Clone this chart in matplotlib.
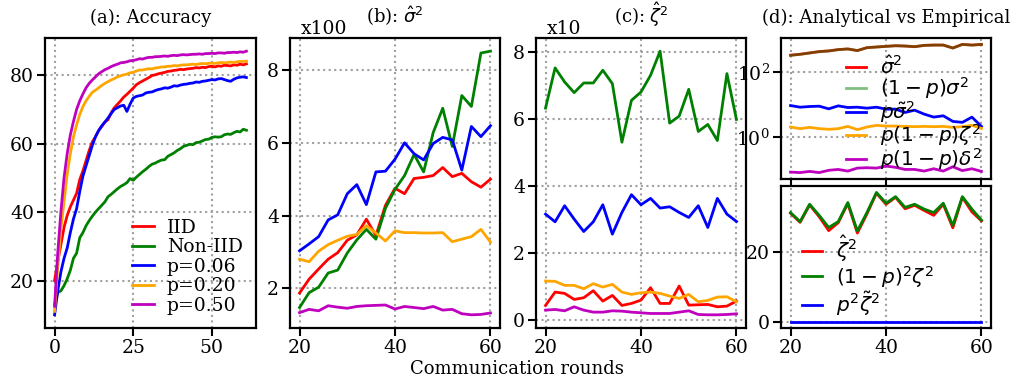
import matplotlib.pyplot as plt
import numpy as np

plt.rcParams['font.family'] = ['DejaVu Serif']
plt.rcParams['mathtext.fontset'] = 'dejavusans'
plt.rcParams['font.size'] = 13

# ---------------- data ----------------
# (a) accuracy per round
rounds_a = np.arange(0, 62)
acc_iid = [20, 25.5, 30.5, 35.5, 39, 41.5, 43.5, 45.5, 49.5, 52, 55, 58, 60.5, 62, 63.8, 65, 66.3, 67,
           69, 70.5, 71.5, 72.5, 73.6, 74.4, 75.3, 76.2, 77.2, 77.8, 78.3, 78.8, 79.3, 79.9, 80.1, 80.4,
           80.6, 80.8, 81.1, 81.2, 81.4, 81.5, 81.7, 81.6, 81.8, 81.9, 82.0, 82.2, 82.1, 82.3, 82.2, 82.5,
           82.6, 82.4, 82.7, 82.6, 82.9, 82.8, 82.7, 83.0, 82.9, 83.2, 83.0, 83.3]
acc_noniid = [13, 16.5, 17, 18.5, 20.5, 23, 26.5, 28, 32.5, 34, 36, 37.5, 38.8, 40, 41, 42, 43, 44.5,
              45.2, 46, 46.8, 47.5, 48, 48.6, 49.8, 49.3, 50.2, 51, 51.8, 52.5, 53.3, 54, 54.3, 54.8,
              55.2, 55.3, 56.3, 56.8, 57.3, 58, 58.5, 59.2, 59.5, 59.8, 59.7, 60.3, 60.4, 60.8, 61.2,
              61.3, 61.8, 62.0, 61.9, 62.0, 62.6, 62.8, 62.7, 63.2, 63.6, 63.4, 64.2, 63.9]
acc_p006 = [10, 17, 22.5, 26.5, 29.5, 34, 38, 41, 46, 50.5, 53.5, 56.5, 59.5, 62, 63.8, 65.2, 66.3,
            67.5, 68.8, 70, 70.5, 71, 71.2, 69.4, 71.5, 73.3, 73.8, 74, 74.2, 74.8, 75, 75.1, 75.5,
            75.8, 76.0, 76.3, 76.2, 76.5, 76.9, 76.8, 77.1, 77.3, 77.4, 77.6, 77.7, 78.0, 77.9, 78.2,
            78.3, 78.5, 78.7, 78.6, 78.9, 79.0, 78.7, 78.4, 78.2, 78.8, 79.2, 79.4, 79.5, 79.3]
acc_p020 = [11, 24, 35, 43, 51, 57, 62, 65.5, 68.5, 70.8, 72.5, 73.8, 75.0, 75.6, 76.3, 77.0, 77.6,
            78.1, 78.6, 79.0, 79.5, 79.8, 80.1, 80.3, 80.7, 80.8, 81.2, 81.5, 81.5, 81.7, 81.9, 81.8,
            82.1, 82.2, 82.4, 82.4, 82.6, 82.6, 82.8, 82.7, 82.9, 83.0, 83.0, 83.1, 83.2, 83.1, 83.3,
            83.4, 83.3, 83.5, 83.5, 83.4, 83.6, 83.7, 83.6, 83.7, 83.8, 83.7, 83.9, 84.0, 84.0, 84.1]
acc_p050 = [12.5, 28, 40, 50, 57, 62.5, 66.5, 70, 72.5, 74.5, 76.3, 77.6, 78.6, 79.5, 80.4, 81.0,
            81.6, 82.0, 82.5, 82.9, 83.2, 83.6, 83.7, 83.9, 84.2, 84.3, 84.5, 84.8, 84.7, 85.0, 85.2,
            85.2, 85.4, 85.4, 85.5, 85.6, 85.5, 85.7, 85.8, 85.7, 85.9, 86.0, 85.9, 86.0, 86.1, 86.1,
            86.2, 86.1, 86.3, 86.3, 86.4, 86.3, 86.5, 86.5, 86.4, 86.6, 86.6, 86.7, 86.6, 86.8, 86.7, 87.0]

# (b), (c), (d): every second round from 20 to 60
rounds = np.arange(20, 61, 2)

# (b) sigma_hat^2 (x100)
sig_iid = [1.87, 2.25, 2.53, 2.8, 2.98, 3.32, 3.47, 3.9, 3.45, 4.28, 4.75, 4.6, 5.02, 5.05, 5.1, 5.32,
           5.07, 5.16, 4.93, 4.78, 5.0]
sig_noniid = [1.47, 1.88, 2.03, 2.42, 2.5, 2.97, 3.33, 3.62, 3.35, 4.2, 4.72, 5.1, 5.68, 5.2, 6.28,
              6.95, 5.9, 7.3, 7.0, 8.47, 8.52]
sig_p006 = [3.03, 3.22, 3.42, 3.88, 4.02, 4.6, 4.85, 4.3, 5.2, 5.22, 5.55, 6.0, 5.7, 5.53, 5.98, 6.15,
            6.08, 5.25, 6.45, 6.17, 6.47]
sig_p020 = [2.8, 2.73, 3.02, 3.2, 3.32, 3.43, 3.48, 3.72, 3.52, 3.3, 3.58, 3.53, 3.53, 3.52, 3.52,
            3.53, 3.28, 3.35, 3.42, 3.62, 3.27]
sig_p050 = [1.33, 1.42, 1.38, 1.52, 1.48, 1.45, 1.5, 1.52, 1.53, 1.54, 1.43, 1.5, 1.47, 1.44, 1.5,
            1.4, 1.42, 1.3, 1.27, 1.28, 1.32]

# (c) zeta_hat^2 (x10)
zeta_iid = [0.42, 0.82, 0.78, 0.6, 0.65, 0.86, 0.55, 0.72, 0.42, 0.48, 0.58, 0.95, 0.48, 0.48, 1.0,
            0.43, 0.44, 0.45, 0.38, 0.4, 0.55]
zeta_noniid = [6.32, 7.52, 7.1, 6.78, 7.07, 7.07, 7.45, 7.05, 5.3, 6.55, 6.8, 7.3, 8.02, 5.87, 6.08,
               6.88, 5.62, 5.83, 5.35, 7.35, 5.98]
zeta_p006 = [3.15, 2.92, 3.4, 3.0, 2.63, 2.92, 3.43, 2.55, 3.2, 3.73, 3.43, 3.62, 3.33, 3.37, 3.2,
             3.05, 3.4, 2.75, 3.62, 3.15, 2.93]
zeta_p020 = [1.15, 1.14, 1.02, 1.02, 0.92, 1.07, 0.97, 1.05, 0.82, 0.75, 0.8, 0.82, 0.78, 0.7, 0.63,
             0.75, 0.53, 0.57, 0.67, 0.68, 0.53]
zeta_p050 = [0.28, 0.3, 0.26, 0.38, 0.28, 0.22, 0.22, 0.26, 0.25, 0.22, 0.2, 0.18, 0.18, 0.18, 0.22,
             0.26, 0.15, 0.14, 0.14, 0.15, 0.17]

# (d) top: analytical vs empirical sigma terms (log scale)
d_sig_hat = [323, 345, 379, 417, 437, 480, 503, 448, 551, 577, 604, 632, 618, 590, 648, 662, 662,
             537, 693, 662, 693]
d_sig_1mp = [320, 343, 377, 415, 436, 478, 502, 447, 549, 575, 603, 630, 617, 589, 646, 660, 661,
             536, 691, 660, 692]
d_p_sig_tilde = [9.18, 8.17, 8.57, 8.77, 7.28, 8.98, 7.98, 8.17, 7.62, 8.17, 7.11, 7.11, 5.62, 6.62,
                 5.0, 4.05, 4.45, 2.99, 2.79, 4.05, 2.1]
d_p1mp_zeta = [2.01, 1.79, 1.96, 1.79, 1.71, 1.79, 2.1, 1.67, 2.01, 2.26, 2.15, 2.15, 2.1, 2.06, 2.1,
               2.06, 2.1, 1.96, 2.06, 2.26, 1.83]
d_p1mp_delta = [0.083, 0.080, 0.087, 0.080, 0.094, 0.100, 0.089, 0.110, 0.113, 0.110, 0.127, 0.116,
                0.100, 0.100, 0.089, 0.105, 0.089, 0.121, 0.092, 0.105, 0.087]

# (d) bottom: zeta terms
d_zeta_hat = [31.2, 28.6, 33.6, 30.2, 26.2, 28.5, 34.0, 25.5, 31.0, 37.0, 33.8, 35.8, 32.5, 33.5,
              32.0, 30.6, 33.8, 27.0, 35.8, 31.6, 29.0]
d_1mp2_zeta = [31.4, 28.8, 33.8, 30.6, 27.1, 28.8, 34.3, 26.1, 31.4, 37.2, 34.1, 36.0, 32.9, 33.8,
               32.4, 31.4, 34.1, 27.7, 36.0, 32.4, 29.2]
d_p2_zeta_tilde = [0.0] * len(rounds)

labels = ['IID', 'Non-IID', 'p=0.06', 'p=0.20', 'p=0.50']
colors = ['red', 'green', 'blue', 'orange', 'm']

# ---------------- figure ----------------
fig = plt.figure(figsize=(10.18, 3.8), dpi=100)
W, H = 1018, 380


def box(x0, x1, y0, y1):
    return [x0 / W, 1 - y1 / H, (x1 - x0) / W, (y1 - y0) / H]


ax_a = fig.add_axes(box(45, 256, 38, 328))
ax_b = fig.add_axes(box(290, 500, 38, 328))
ax_c = fig.add_axes(box(536, 746, 38, 328))
ax_d1 = fig.add_axes(box(781, 991, 38, 179))
ax_d2 = fig.add_axes(box(781, 991, 186, 328))


def style(ax):
    for s in ax.spines.values():
        s.set_linewidth(1.6)
    ax.tick_params(direction='out', length=6, width=1.5, labelsize=13.5, pad=2)
    ax.grid(True, linestyle=':', color='#a0a0a0', linewidth=1.5)


lw = 2.0
tsize = 13

# (a)
for ys, lab, c in zip([acc_iid, acc_noniid, acc_p006, acc_p020, acc_p050], labels, colors):
    ax_a.plot(rounds_a, ys, color=c, lw=lw, label=lab)
ax_a.set_xticks([0, 25, 50])
ax_a.set_yticks([20, 40, 60, 80])
ax_a.set_title('(a): Accuracy', fontsize=tsize, pad=11)
ax_a.legend(loc='lower right', frameon=False, fontsize=13.5, labelspacing=0.08,
            handlelength=1.15, handletextpad=0.7, borderaxespad=0.3)
style(ax_a)

# (b)
for ys, c in zip([sig_iid, sig_noniid, sig_p006, sig_p020, sig_p050], colors):
    ax_b.plot(rounds, ys, color=c, lw=lw)
ax_b.set_xticks([20, 40, 60])
ax_b.set_yticks([2, 4, 6, 8])
ax_b.set_title(r'(b): $\hat{\sigma}^2$', fontsize=tsize, pad=11)
ax_b.text(0.05, 1.0, 'x100', transform=ax_b.transAxes, va='bottom', fontsize=13.5)
style(ax_b)

# (c)
for ys, c in zip([zeta_iid, zeta_noniid, zeta_p006, zeta_p020, zeta_p050], colors):
    ax_c.plot(rounds, ys, color=c, lw=lw)
ax_c.set_xticks([20, 40, 60])
ax_c.set_yticks([0, 2, 4, 6, 8])
ax_c.set_title(r'(c): $\hat{\zeta}^2$', fontsize=tsize, pad=11)
ax_c.text(0.05, 1.0, 'x10', transform=ax_c.transAxes, va='bottom', fontsize=13.5)
style(ax_c)

# (d) top
ax_d1.plot(rounds, d_sig_hat, color='red', lw=lw, label=r'$\hat{\sigma}^2$')
ax_d1.plot(rounds, d_sig_1mp, color='green', lw=lw, alpha=0.5, label=r'$(1-p)\sigma^2$')
ax_d1.plot(rounds, d_p_sig_tilde, color='blue', lw=lw, label=r'$p\tilde{\sigma}^2$')
ax_d1.plot(rounds, d_p1mp_zeta, color='orange', lw=lw, label=r'$p(1-p)\zeta^2$')
ax_d1.plot(rounds, d_p1mp_delta, color='m', lw=lw, label=r'$p(1-p)\delta^2$')
ax_d1.set_yscale('log')
ax_d1.set_yticks([1, 100])
ax_d1.minorticks_off()
ax_d1.set_xticks([20, 40, 60])
ax_d1.set_xticklabels([])
ax_d1.set_title('(d): Analytical vs Empirical', fontsize=tsize, pad=11)
ax_d1.legend(loc='upper left', bbox_to_anchor=(0.27, 0.93), frameon=False, fontsize=14.5,
             labelspacing=-0.12, handlelength=1.0, handletextpad=0.7, borderaxespad=0.0)
style(ax_d1)

# (d) bottom
ax_d2.plot(rounds, d_zeta_hat, color='red', lw=lw, label=r'$\hat{\zeta}^2$')
ax_d2.plot(rounds, d_1mp2_zeta, color='green', lw=lw, label=r'$(1-p)^2\zeta^2$')
ax_d2.plot(rounds, d_p2_zeta_tilde, color='blue', lw=lw, label=r'$p^2\tilde{\zeta}^2$')
ax_d2.set_xticks([20, 40, 60])
ax_d2.set_yticks([0, 20])
ax_d2.legend(loc='upper left', bbox_to_anchor=(0.06, 0.72), frameon=False, fontsize=14.5,
             labelspacing=0.0, handlelength=1.0, handletextpad=0.7, borderaxespad=0.0)
style(ax_d2)

fig.text(0.508, 1 - 374 / H, 'Communication rounds', ha='center', va='baseline', fontsize=13)

fig.savefig('out.png', dpi=100)
